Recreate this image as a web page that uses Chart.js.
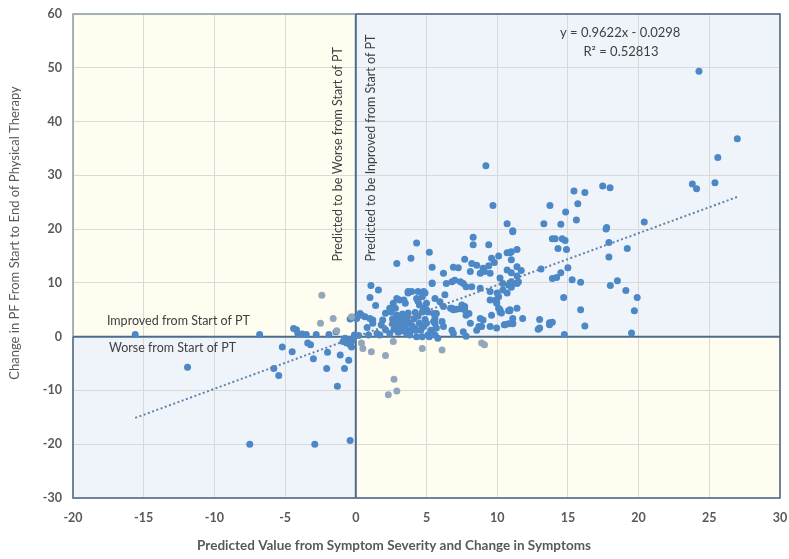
<!DOCTYPE html>
<html>
<head>
<meta charset="utf-8">
<script src="https://cdn.jsdelivr.net/npm/chart.js@4"></script>
<style>
html,body{margin:0;padding:0;background:#fff;}
canvas{display:block;}
</style>
</head>
<body>
<canvas id="c" width="789" height="559"></canvas>
<script>
// ---------- data ----------
const xTicks = [-20, -15, -10, -5, 0, 5, 10, 15, 20, 25, 30];
const yTicks = [-30, -20, -10, 0, 10, 20, 30, 40, 50, 60];

const bluePoints = [
  [-15.6,0.4],[-11.9,-5.7],[-6.8,0.4],[-7.5,-20.0],[-2.9,-20.0],[-0.4,-19.3],
  [-5.2,-1.9],[-4.5,-2.8],[-5.8,-5.9],[-5.45,-7.2],[-4.2,1.3],[-4.4,1.5],[-4.1,0.6],[-3.8,0.5],[-3.5,0.4],[-2.8,0.4],[-1.9,0.4],[-1.4,0.9],
  [-3.4,-1.2],[-3.2,-1.5],[-3.0,-4.1],[-2.0,-2.9],[-1.1,-3.4],[-0.5,-4.4],[-2.06,-5.9],[-0.8,-5.9],[-1.3,-9.2],
  [-0.76,-0.3],[-0.5,-0.6],[-0.3,-0.9],[-0.65,-1.2],[-0.4,-1.5],[-0.18,-0.3],[-0.1,0.3],[-0.9,-0.9],[-0.3,-1.9],
  [-0.4,3.3],[-0.1,3.6],[1.07,9.5],[1.6,8.7],[1.0,7.3],[1.4,5.8],[0.3,4.3],[0.42,4.0],[0.65,3.7],[1.0,3.4],[1.2,3.1],[0.06,3.4],[0.8,1.7],[0.9,0.3],[1.5,0.6],[0.2,0.2],[1.2,2.5],[1.8,2.2],[1.9,3.1],[2.1,4.35],[1.7,0.3],[2.4,0.6],[2.1,1.3],
  [2.65,6.2],[2.8,5.3],[2.5,4.6],[3.4,6.8],[3.5,6.2],[2.9,7.1],[3.1,6.8],[2.4,5.3],[3.7,8.4],[3.95,8.4],[4.8,8.4],[5.4,9.9],[4.3,7.1],[4.5,5.9],[4.8,5.3],[5.0,6.2],[5.7,4.3],[5.6,3.4],
  [2.9,3.1],[3.1,3.7],[3.4,2.5],[3.0,1.9],[3.5,1.6],[3.8,2.5],[3.6,0.6],[4.5,2.5],[4.8,1.9],[5.0,2.5],[4.3,0.0],[5.1,0.3],[5.6,0.3],
  [2.6,2.4],[2.7,1.4],[3.0,0.8],[3.3,1.1],[3.2,3.0],[3.6,3.5],[3.9,1.2],[4.1,3.3],[3.7,4.4],[3.3,4.2],[2.9,4.0],[4.2,1.5],[4.0,2.0],[4.4,3.8],[4.7,4.6],[4.2,4.5],[3.8,0.3],[3.1,2.3],[2.6,3.3],[3.5,2.9],[4.6,1.2],[4.9,3.2],[4.4,6.6],[4.7,7.4],[5.0,5.0],[5.1,4.6],[4.4,8.4],[4.9,8.1],[3.7,8.1],
  [4.7,0.0],[5.2,0.0],[4.7,1.9],[4.2,1.2],[3.8,0.6],[5.3,1.2],[5.4,1.2],[5.7,1.6],[5.5,2.8],[5.5,4.3],[5.8,-0.3],
  [4.3,17.4],[2.9,13.6],[3.9,14.6],[5.2,15.7],[5.4,12.9],[6.2,11.8],[6.9,12.9],[7.25,12.8],[7.7,14.4],[8.3,18.5],[8.3,17.1],[9.4,17.1],[11.1,19.5],[9.2,31.8],[9.7,24.4],[10.7,21.0],[11.1,19.7],
  [10.1,15.0],[10.7,15.6],[10.9,15.6],[11.4,16.2],[9.6,14.6],[9.8,13.8],[9.4,13.2],[9.0,12.7],[9.1,12.1],[9.5,11.8],[8.2,13.6],[8.55,13.3],[8.8,11.8],[8.1,12.1],[10.7,12.4],[11.0,11.9],[11.4,11.3],
  [10.2,10.9],[10.4,9.9],[10.8,9.6],[11.1,9.9],[11.5,10.2],[5.4,10.0],[6.4,9.9],[6.8,10.2],[7.0,10.5],[7.4,10.2],[7.6,9.9],[7.8,9.3],[8.2,9.3],[8.8,9.0],[9.5,8.4],[10.0,8.1],[10.4,8.7],[10.7,8.1],
  [5.6,7.1],[6.3,7.8],[5.95,6.5],[6.2,5.6],[6.7,5.3],[6.9,5.0],[7.4,5.2],[7.7,5.0],[4.8,5.0],
  [9.5,6.8],[9.96,6.5],[10.1,5.3],[10.2,4.6],[10.9,5.0],[11.4,5.3],[11.1,3.4],[10.55,2.2],[9.96,1.6],[9.5,1.9],[8.8,3.4],[8.9,1.9],[8.55,1.2],[8.1,2.5],[7.8,4.0],[11.8,3.4],[6.8,1.2],[6.9,0.6],[7.6,0.9],[7.8,0.1],[6.1,2.8],[6.2,1.9],[5.6,2.5],
  [10.2,5.0],[9.96,6.2],[9.9,6.8],[10.1,7.4],[9.6,4.0],[10.8,4.8],[10.3,4.4],[9.0,3.1],[8.7,1.9],[8.0,4.3],[7.5,5.9],[7.7,5.6],[6.8,5.3],[7.1,5.1],[11.1,2.5],[10.8,2.4],[10.5,2.2],
  [17.46,28.0],[17.98,27.7],[15.43,27.1],[16.2,26.8],[13.73,24.4],[15.7,24.7],[14.84,23.2],[15.6,21.7],[20.4,21.3],[13.3,21.0],[14.5,20.9],[17.74,20.3],[17.7,20.0],[13.9,18.2],[14.1,18.2],[14.6,18.2],[14.8,17.9],[17.9,17.5],[14.3,16.4],[14.9,16.2],[19.2,16.4],[11.0,15.8],[17.9,14.8],[11.0,14.3],[11.4,13.0],[11.7,12.3],[13.1,12.6],[15.0,12.8],[14.5,11.9],[14.2,11.0],[13.9,10.8],[15.3,10.6],[15.9,10.1],[18.5,10.4],[18.0,9.5],[11.0,10.2],[11.4,9.9],[11.0,9.2],[19.1,8.6],[19.9,7.3],[14.7,7.3],[10.9,4.8],[15.9,5.0],[19.7,4.8],[13.0,3.2],[11.1,2.4],[13.7,2.6],[13.9,2.7],[13.7,2.2],[12.9,1.4],[16.2,2.0],[14.75,0.4],[19.5,0.7],[13.0,1.6],
  [24.27,49.35],[26.98,36.8],[25.6,33.3],[25.4,28.6],[23.8,28.4],[24.1,27.5]
];

const grayPoints = [
  [-2.4,7.7],[-2.5,2.5],[-1.6,3.4],[-0.3,3.7],[-1.35,1.1],[0.4,-1.2],[0.5,-2.2],[1.1,-2.8],[2.1,-3.5],
  [2.65,-0.9],[2.7,-7.9],[2.9,-10.1],[2.3,-10.8],[4.7,-2.2],[6.1,-2.5],[8.9,-1.2],[9.1,-1.5]
];

const trendX = [-15.6, 27.0];
const trendY = [-15.1, 26.0];

const equationText = 'y = 0.9622x - 0.0298';
const r2Text = 'R\u00B2 = 0.52813';
const xTitle = 'Predicted Value from Symptom Severity and Change in Symptoms';
const yTitle = 'Change in PF From Start to End of Physical Therapy';

// ---------- chart ----------
const FONT = 'Lato, "Open Sans", sans-serif';
const TXT = '#595959';

const quadPlugin = {
  id: 'quad',
  beforeDraw(chart) {
    const {ctx, chartArea: a, scales: {x, y}} = chart;
    const x0 = x.getPixelForValue(0), y0 = y.getPixelForValue(0);
    ctx.save();
    ctx.fillStyle = '#fffdf0';
    ctx.fillRect(a.left, a.top, x0 - a.left, y0 - a.top);
    ctx.fillRect(x0, y0, a.right - x0, a.bottom - y0);
    ctx.fillStyle = '#eff3fa';
    ctx.fillRect(x0, a.top, a.right - x0, y0 - a.top);
    ctx.fillRect(a.left, y0, x0 - a.left, a.bottom - y0);
    ctx.restore();
  },
  beforeDatasetsDraw(chart) {
    const {ctx, chartArea: a, scales: {x, y}} = chart;
    const x0 = x.getPixelForValue(0), y0 = y.getPixelForValue(0);
    ctx.save();
    ctx.strokeStyle = '#8d9cad';
    ctx.lineWidth = 1.5;
    ctx.strokeRect(a.left, a.top, a.right - a.left, a.bottom - a.top);
    ctx.strokeStyle = '#5d7690';
    ctx.beginPath();
    ctx.moveTo(x0, a.top); ctx.lineTo(a.right, a.top); ctx.lineTo(a.right, a.bottom);
    ctx.lineTo(x0, a.bottom);
    ctx.moveTo(a.left, y0); ctx.lineTo(a.left, a.bottom); ctx.lineTo(x0, a.bottom);
    ctx.stroke();
    ctx.strokeStyle = '#4d6c8c';
    ctx.lineWidth = 2;
    ctx.beginPath();
    ctx.moveTo(x0, a.top); ctx.lineTo(x0, a.bottom);
    ctx.moveTo(a.left, y0); ctx.lineTo(a.right, y0);
    ctx.stroke();

    ctx.fillStyle = '#404040';
    ctx.font = '12.5px ' + FONT;
    ctx.textAlign = 'left';
    ctx.textBaseline = 'middle';
    const lx = x.getPixelForValue(-17.6);
    ctx.fillText('Improved from Start of PT', lx, y0 - 16);
    ctx.fillText('Worse from Start of PT', lx + 2, y0 + 11);

    ctx.textAlign = 'center';
    ctx.font = '13px ' + FONT;
    ctx.fillText(equationText, x.getPixelForValue(18.7), a.top + 19);
    ctx.fillText(r2Text, x.getPixelForValue(18.75), a.top + 38);

    ctx.font = '12.5px ' + FONT;
    const by = y.getPixelForValue(14);
    ctx.textAlign = 'left';
    ctx.save();
    ctx.translate(x0 - 18, by);
    ctx.rotate(-Math.PI / 2);
    ctx.fillText('Predicted to be Worse from Start of PT', 0, 0);
    ctx.restore();
    ctx.save();
    ctx.translate(x0 + 15, by);
    ctx.rotate(-Math.PI / 2);
    ctx.fillText('Predicted to be Inproved from Start of PT', 0, 0);
    ctx.restore();

    ctx.restore();
  },
  afterDraw(chart) {
    const {ctx, chartArea: a} = chart;
    ctx.save();
    ctx.fillStyle = TXT;
    ctx.textAlign = 'center';
    ctx.textBaseline = 'middle';
    ctx.font = 'bold 13.5px ' + FONT;
    ctx.fillText(xTitle, 394, chart.height - 13);
    ctx.font = '13px ' + FONT;
    ctx.translate(15, 233);
    ctx.rotate(-Math.PI / 2);
    ctx.fillText(yTitle, 0, 0);
    ctx.restore();
  }
};

new Chart(document.getElementById('c'), {
  type: 'scatter',
  data: {
    datasets: [
      {
        label: 'Trend',
        type: 'line',
        data: trendX.map((v, i) => ({x: v, y: trendY[i]})),
        borderColor: '#6283a8',
        borderWidth: 2,
        borderDash: [2, 2.5],
        pointRadius: 0,
        fill: false,
        order: 0
      },
      {
        label: 'Patients',
        data: bluePoints.map(p => ({x: p[0], y: p[1]})),
        backgroundColor: '#4d88c6',
        borderColor: '#4d88c6',
        pointRadius: 3.5,
        pointBorderWidth: 0,
        order: 2
      },
      {
        label: 'Patients (other)',
        data: grayPoints.map(p => ({x: p[0], y: p[1]})),
        backgroundColor: '#93a7bb',
        borderColor: '#93a7bb',
        pointRadius: 3.5,
        pointBorderWidth: 0,
        order: 1
      }
    ]
  },
  options: {
    responsive: false,
    animation: false,
    layout: {padding: {top: 14, right: 9, left: 0, bottom: 0}},
    plugins: {legend: {display: false}, tooltip: {enabled: false}},
    scales: {
      x: {
        type: 'linear',
        min: xTicks[0], max: xTicks[xTicks.length - 1],
        afterBuildTicks: s => { s.ticks = xTicks.map(v => ({value: v})); },
        afterFit: s => { s.height = 61; s.paddingRight = 0; s.paddingLeft = 0; },
        grid: {color: '#d9d9d9', lineWidth: 1, drawTicks: false},
        border: {display: false},
        ticks: {color: TXT, font: {family: FONT, size: 12.5, weight: 'bold'}, padding: 12, maxRotation: 0}
      },
      y: {
        type: 'linear',
        min: yTicks[0], max: yTicks[yTicks.length - 1],
        afterBuildTicks: s => { s.ticks = yTicks.map(v => ({value: v})); },
        afterFit: s => { s.width = 73; s.paddingTop = 0; s.paddingBottom = 0; },
        grid: {color: '#d9d9d9', lineWidth: 1, drawTicks: false},
        border: {display: false},
        ticks: {color: TXT, font: {family: FONT, size: 12.5, weight: 'bold'}, padding: 11}
      }
    }
  },
  plugins: [quadPlugin]
});
</script>
</body>
</html>
